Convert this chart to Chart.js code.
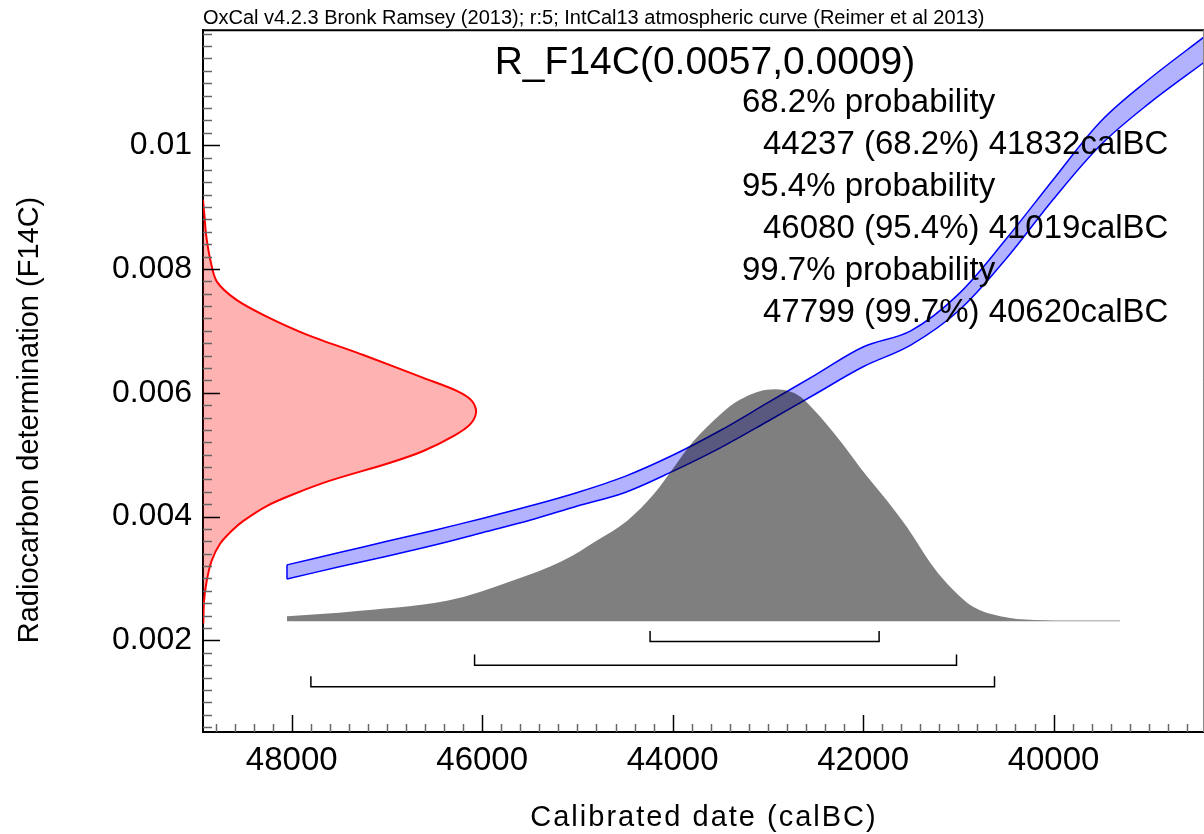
<!DOCTYPE html>
<html>
<head>
<meta charset="utf-8">
<title>R_F14C calibration</title>
<script src="https://cdn.jsdelivr.net/npm/chart.js@4.4.0/dist/chart.umd.min.js"></script>
<style>
  html, body { margin: 0; padding: 0; background: #fff; }
  #wrap { width: 1204px; height: 834px; position: relative; }
</style>
</head>
<body>
<div id="wrap"><canvas id="chart"></canvas></div>
<script>
// calibration curve band (IntCal13), calBC vs F14C
const curveCal = [48050, 47500, 47000, 46500, 46000, 45500, 45000, 44500, 44000, 43500, 43000, 42500, 42000, 41500, 41000, 40500, 40000, 39500, 39000, 38400];
const curveUpper = [0.00322, 0.00342, 0.00360, 0.00378, 0.00397, 0.00417, 0.00439, 0.00465, 0.00499, 0.00539, 0.00584, 0.00629, 0.00674, 0.00700, 0.00759, 0.00848, 0.00945, 0.01039, 0.01106, 0.01177];
const curveLower = [0.00299, 0.00319, 0.00336, 0.00354, 0.00374, 0.00394, 0.00417, 0.00439, 0.00473, 0.00511, 0.00554, 0.00598, 0.00642, 0.00677, 0.00732, 0.00816, 0.00913, 0.01001, 0.01067, 0.01136];

// calibrated probability distribution (top edge, in F14C units above the baseline)
const probCal = [48050, 47420, 46370, 45670, 45150, 44800, 44480, 44200, 43990, 43780, 43500, 43290, 43010, 42730, 42520, 42240, 42030, 41750, 41540, 41260, 41050, 40840, 40560, 40210, 39300];
const probTop = [0.00239, 0.00246, 0.00264, 0.00297, 0.00329, 0.00361, 0.00393, 0.00436, 0.00479, 0.00522, 0.00565, 0.00589, 0.00605, 0.00600, 0.00573, 0.00522, 0.00479, 0.00426, 0.00383, 0.00318, 0.00281, 0.00254, 0.00239, 0.00233, 0.00232];
const probBase = 0.00231;

// radiocarbon measurement distribution, drawn against the y axis
const radioF14C = [0.00912, 0.00885, 0.00856, 0.00817, 0.00780, 0.00750, 0.00723, 0.00694, 0.00661, 0.00624, 0.00603, 0.00587, 0.00569, 0.00549, 0.00530, 0.00506, 0.00487, 0.00458, 0.00436, 0.00417, 0.00393, 0.00377, 0.00356, 0.00329, 0.00297, 0.00264, 0.00227];
const radioCal = [48932, 48916, 48900, 48858, 48788, 48580, 48263, 47843, 47248, 46618, 46267, 46109, 46064, 46127, 46303, 46618, 46967, 47598, 47983, 48263, 48508, 48630, 48753, 48840, 48892, 48921, 48929];

// highest probability ranges
const rangeLabels = ['68.2%', '95.4%', '99.7%'];
const rangeFrom = [44237, 46080, 47799];
const rangeTo = [41832, 41019, 40620];
const rangeLevel = [0.00198, 0.00160, 0.00125];

const xMin = 38420, xMax = 48932;
const yMin = 0.00052, yMax = 0.011857;

const FONT = '"Liberation Sans", Arial, sans-serif';
Chart.defaults.font.family = FONT;
Chart.defaults.color = '#000';

const xy = (xs, ys) => xs.map((x, i) => ({ x: x, y: ys[i] }));

const bracketTick = 0.00017;
const bracketSets = rangeFrom.map((from, i) => ({
  label: rangeLabels[i] + ' range',
  data: [
    { x: from, y: rangeLevel[i] + bracketTick },
    { x: from, y: rangeLevel[i] },
    { x: rangeTo[i], y: rangeLevel[i] },
    { x: rangeTo[i], y: rangeLevel[i] + bracketTick }
  ],
  borderColor: '#000',
  borderWidth: 1.5,
  pointRadius: 0,
  fill: false,
  order: 0
}));

// inward tick marks, major ones longer, plus the top and right frame
const innerTicks = {
  id: 'innerTicks',
  afterDatasetsDraw(chart) {
    const { ctx, chartArea: a, scales } = chart;
    ctx.save();
    ctx.lineWidth = 1.5;
    scales.x.ticks.forEach(t => {
      const major = Math.abs(t.value / 2000 - Math.round(t.value / 2000)) < 1e-6;
      const px = Math.round(scales.x.getPixelForValue(t.value)) + 0.5;
      ctx.strokeStyle = major ? '#000' : '#666';
      ctx.beginPath();
      ctx.moveTo(px, a.bottom);
      ctx.lineTo(px, a.bottom - (major ? 17 : 8));
      ctx.stroke();
    });
    scales.y.ticks.forEach(t => {
      const major = Math.abs(t.value / 0.002 - Math.round(t.value / 0.002)) < 1e-6;
      const py = Math.round(scales.y.getPixelForValue(t.value)) + 0.5;
      ctx.strokeStyle = major ? '#000' : '#666';
      ctx.beginPath();
      ctx.moveTo(a.left, py);
      ctx.lineTo(a.left + (major ? 17 : 9), py);
      ctx.stroke();
    });
    ctx.strokeStyle = '#000';
    ctx.lineWidth = 2;
    ctx.beginPath();
    ctx.moveTo(a.left, a.top);
    ctx.lineTo(a.right, a.top);
    ctx.stroke();
    ctx.strokeStyle = '#888';
    ctx.lineWidth = 1;
    ctx.beginPath();
    ctx.moveTo(a.right - 0.5, a.top);
    ctx.lineTo(a.right - 0.5, a.bottom);
    ctx.stroke();
    ctx.restore();
  }
};

const captions = {
  id: 'captions',
  afterDraw(chart) {
    const ctx = chart.ctx;
    const a = chart.chartArea;
    ctx.save();
    ctx.fillStyle = '#000';
    ctx.textBaseline = 'alphabetic';
    ctx.textAlign = 'left';
    ctx.font = '20px ' + FONT;
    ctx.fillText('OxCal v4.2.3 Bronk Ramsey (2013); r:5; IntCal13 atmospheric curve (Reimer et al 2013)', a.left, 24);
    ctx.textAlign = 'center';
    ctx.font = '39px ' + FONT;
    ctx.fillText('R_F14C(0.0057,0.0009)', 705, 74);
    ctx.textAlign = 'left';
    ctx.font = '33px ' + FONT;
    rangeLabels.forEach((lab, i) => {
      const base = 112 + i * 84;
      ctx.fillText(lab + ' probability', 742, base);
      ctx.fillText(rangeFrom[i] + ' (' + lab + ') ' + rangeTo[i] + 'calBC', 763, base + 42);
    });

    // axis titles
    ctx.textAlign = 'center';
    ctx.textBaseline = 'middle';
    ctx.font = '29px ' + FONT;
    ctx.letterSpacing = '2px';
    ctx.fillText('Calibrated date (calBC)', 704, 818);
    ctx.letterSpacing = '0px';
    ctx.translate(30, 420);
    ctx.rotate(-Math.PI / 2);
    ctx.fillText('Radiocarbon determination (F14C)', 0, 0);
    ctx.restore();
  }
};

new Chart(document.getElementById('chart'), {
  type: 'line',
  data: {
    datasets: [
      {
        label: 'Calibrated date',
        data: xy(probCal, probTop),
        borderWidth: 0,
        borderColor: 'rgba(0,0,0,0.15)',
        backgroundColor: 'rgba(0,0,0,0.5)',
        pointRadius: 0,
        tension: 0.35,
        fill: { value: probBase },
        order: 1
      },
      {
        label: 'IntCal13 upper',
        data: xy(curveCal, curveUpper),
        borderColor: '#0000ff',
        borderWidth: 1.5,
        pointRadius: 0,
        tension: 0.35,
        fill: false,
        order: 2
      },
      {
        label: 'IntCal13 lower',
        data: xy(curveCal, curveLower),
        borderColor: '#0000ff',
        borderWidth: 1.5,
        backgroundColor: 'rgba(0,0,255,0.3)',
        pointRadius: 0,
        tension: 0.35,
        fill: '-1',
        order: 2
      },
      {
        label: 'IntCal13 end',
        data: [{ x: curveCal[0], y: curveUpper[0] }, { x: curveCal[0], y: curveLower[0] }],
        borderColor: '#0000ff',
        borderWidth: 1.5,
        pointRadius: 0,
        fill: false,
        order: 2
      },
      {
        label: 'R_F14C',
        data: xy(radioCal, radioF14C),
        borderColor: '#ff0000',
        borderWidth: 2,
        backgroundColor: 'rgba(255,0,0,0.3)',
        pointRadius: 0,
        tension: 0.3,
        fill: 'shape',
        order: 3
      }
    ].concat(bracketSets)
  },
  options: {
    responsive: true,
    maintainAspectRatio: false,
    animation: false,
    events: [],
    layout: { padding: { top: 28, left: 0, right: 0, bottom: 0 } },
    plugins: {
      legend: { display: false },
      tooltip: { enabled: false },
      title: { display: false }
    },
    scales: {
      x: {
        type: 'linear',
        reverse: true,
        min: xMin,
        max: xMax,
        afterFit: s => { s.height = 102; },
        grid: { display: false, drawTicks: false },
        border: { display: true, color: '#000', width: 2 },
        ticks: {
          stepSize: 200,
          autoSkip: false,
          maxRotation: 0,
          includeBounds: false,
          padding: 9,
          font: { size: 33 },
          color: '#000',
          callback: v => (Math.abs(v / 2000 - Math.round(v / 2000)) < 1e-6 ? String(v) : '')
        }
      },
      y: {
        type: 'linear',
        min: yMin,
        max: yMax,
        afterFit: s => { s.width = 203; },
        grid: { display: false, drawTicks: false },
        border: { display: true, color: '#000', width: 2 },
        ticks: {
          stepSize: 0.0002,
          autoSkip: false,
          includeBounds: false,
          padding: 11,
          font: { size: 32 },
          color: '#000',
          callback: v => (Math.abs(v / 0.002 - Math.round(v / 0.002)) < 1e-6 ? String(+v.toFixed(3)) : '')
        }
      }
    }
  },
  plugins: [innerTicks, captions]
});
</script>
</body>
</html>
